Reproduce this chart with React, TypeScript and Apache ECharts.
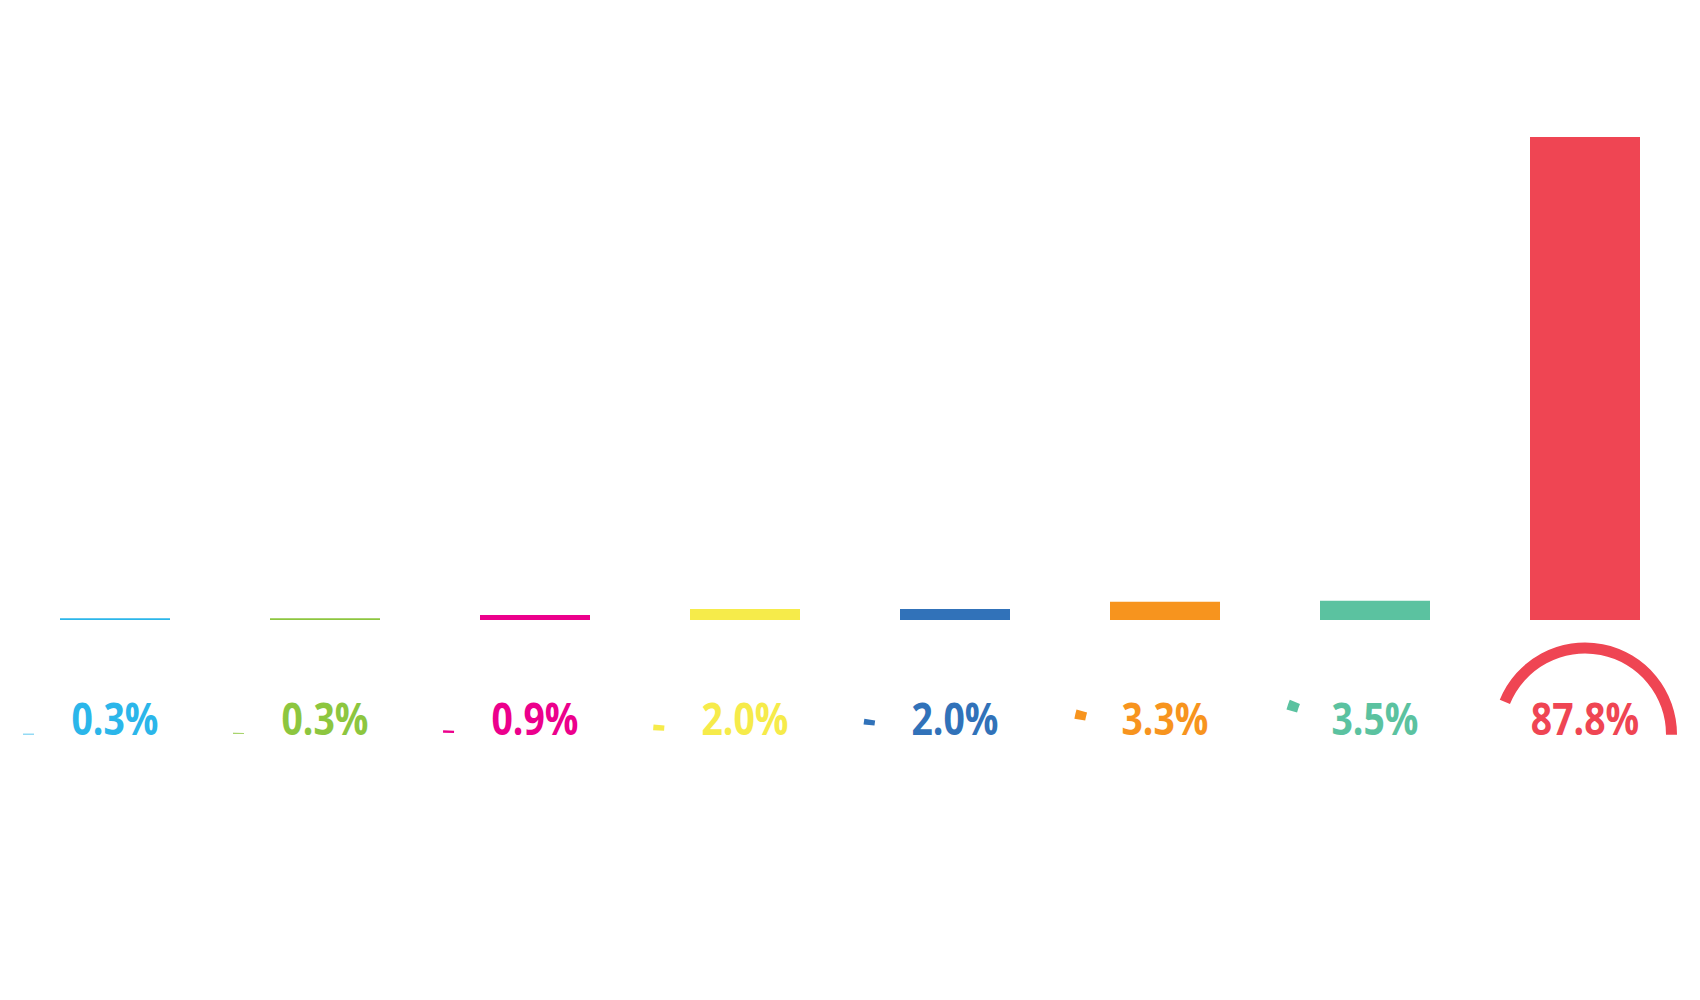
import React, { useEffect, useRef } from "react";
import * as echarts from "echarts";

const values = [0.3, 0.3, 0.9, 2.0, 2.0, 3.3, 3.5, 87.8];
const labels = ["0.3%", "0.3%", "0.9%", "2.0%", "2.0%", "3.3%", "3.5%", "87.8%"];
const colors = ["#2BB6EA", "#8DC63F", "#EC008C", "#F6EB4A", "#3172B9", "#F7941E", "#5BC2A0", "#EF4553"];

const FONT = "'Open Sans', 'Liberation Sans', sans-serif";

export default function App() {
  const ref = useRef<HTMLDivElement>(null);
  useEffect(() => {
    if (!ref.current) return;
    const chart = echarts.init(ref.current, undefined, { renderer: "svg" });
    const bar: any = {
      type: "bar",
      barWidth: 110,
      silent: true,
      data: values.map((v, i) => ({ value: v, itemStyle: { color: colors[i] } })),
    };
    chart.setOption({
      animation: false,
      backgroundColor: "#ffffff",
      grid: { left: 2, right: 2, top: 62, bottom: 372 },
      xAxis: {
        type: "category",
        data: labels.map((_l, i) => "c" + i),
        axisLine: { show: false },
        axisTick: { show: false },
        splitLine: { show: false },
        axisLabel: { show: false },
      },
      yAxis: {
        type: "value",
        min: 0,
        max: 100,
        show: false,
        splitLine: { show: false },
      },
      series: [bar],
    });

    let before = 0;
    const xs = values.map((_v, i) => chart.convertToPixel({ xAxisIndex: 0 }, i) as unknown as number);
    const pies = values.map((v, i) => {
      const start = before;
      before += v;
      return {
        type: "pie",
        silent: true,
        center: [xs[i], 726.5],
        radius: [81, 92],
        startAngle: 180,
        clockwise: true,
        label: { show: false },
        labelLine: { show: false },
        itemStyle: { borderWidth: 0 },
        emphasis: { disabled: true },
        data: [
          { value: start, itemStyle: { color: "rgba(0,0,0,0)" } },
          { value: v, itemStyle: { color: colors[i] } },
          { value: 200 - start - v, itemStyle: { color: "rgba(0,0,0,0)" } },
        ],
      };
    });
    const texts = labels.map((t, i) => ({
      type: "text",
      x: xs[i],
      y: 710,
      scaleX: 0.83,
      silent: true,
      style: {
        text: t,
        x: 0,
        y: 0,
        fill: colors[i],
        font: `bold 45px ${FONT}`,
        fontFamily: FONT,
        fontSize: 45,
        fontWeight: "bold",
        align: "center",
        verticalAlign: "middle",
      },
    }));
    chart.setOption({ series: [bar, ...pies], graphic: { elements: texts } });

    return () => chart.dispose();
  }, []);
  return <div ref={ref} style={{ width: 1684, height: 984 }} />;
}
